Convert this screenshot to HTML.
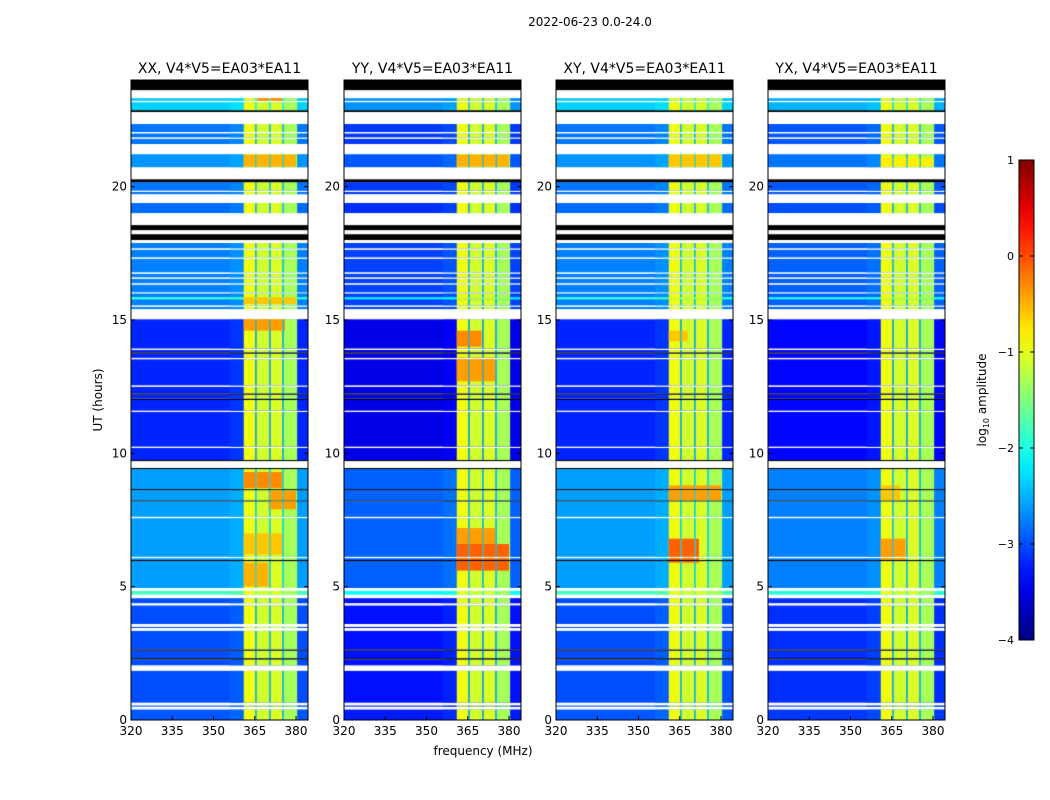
<!DOCTYPE html>
<html><head><meta charset="utf-8"><style>
body{margin:0;background:#fff;}
#wrap{position:relative;width:1050px;height:800px;overflow:hidden;font-family:"DejaVu Sans","Liberation Sans",sans-serif;}
canvas{position:absolute;}
svg{position:absolute;left:0;top:0;}
</style></head><body>
<div id="wrap">
<svg id="svg" width="1050" height="800"></svg>
</div>
<script>
// ---- data ----
const panelTitles = ["XX, V4*V5=EA03*EA11","YY, V4*V5=EA03*EA11","XY, V4*V5=EA03*EA11","YX, V4*V5=EA03*EA11"];
const panelLeft = [131,344,556,768];
const bgOffset = [0,-0.3,0,-0.15];
const xTicks = [320,335,350,365,380];
const yTicks = [0,5,10,15,20];
const cbTicks = [1,0,-1,-2,-3,-4];
// time segments: [h0,h1,type,bgLevel]  type d=data, w=white(flagged), k=black
const segments = [
 [0,0.4,"d",-2.95],[0.4,0.5,"w",0],[0.5,0.55,"d",-2.95],[0.55,0.65,"w",0],[0.65,1.85,"d",-3.0],[1.85,2.05,"w",0],
 [2.05,2.27,"d",-3.0],[2.27,2.32,"k",0],[2.32,2.6,"d",-3.0],[2.6,2.65,"k",0],[2.65,3.35,"d",-3.0],[3.35,3.45,"w",0],
 [3.45,3.5,"d",-3.0],[3.5,3.6,"w",0],[3.6,4.3,"d",-3.0],[4.3,4.38,"w",0],[4.38,4.57,"d",-3.0],[4.57,4.7,"w",0],
 [4.7,4.85,"d",-1.8],[4.85,4.95,"w",0],[4.95,5.96,"d",-2.6],[5.96,6.0,"k",0],[6.0,6.07,"d",-2.6],[6.07,6.12,"w",0],
 [6.12,7.57,"d",-2.6],[7.57,7.62,"w",0],[7.62,8.2,"d",-2.6],[8.2,8.24,"k",0],[8.24,8.62,"d",-2.6],[8.62,8.66,"k",0],
 [8.66,9.41,"d",-2.6],[9.41,9.45,"k",0],[9.45,9.71,"w",0],[9.71,9.75,"k",0],[9.75,10.2,"d",-3.2],[10.2,10.25,"w",0],
 [10.25,11.55,"d",-3.2],[11.55,11.6,"w",0],[11.6,12.0,"d",-3.2],[12.0,12.05,"k",0],[12.05,12.2,"d",-3.2],[12.2,12.25,"k",0],
 [12.25,12.5,"d",-3.2],[12.5,12.55,"w",0],[12.55,13.53,"d",-3.2],[13.53,13.58,"w",0],[13.58,13.74,"d",-3.2],[13.74,13.79,"k",0],
 [13.79,13.88,"d",-3.2],[13.88,13.93,"w",0],[13.93,15.03,"d",-3.2],[15.03,15.41,"w",0],[15.41,15.5,"d",-2.75],[15.5,15.55,"w",0],
 [15.55,15.78,"d",-2.75],[15.78,15.86,"d",-1.9],[15.86,16.0,"d",-2.75],[16.0,16.04,"w",0],[16.04,16.33,"d",-2.75],[16.33,16.38,"w",0],
 [16.38,16.55,"d",-2.75],[16.55,16.6,"w",0],[16.6,16.74,"d",-2.75],[16.74,16.79,"w",0],[16.79,17.3,"d",-2.75],[17.3,17.35,"w",0],
 [17.35,17.64,"d",-2.75],[17.64,17.69,"w",0],[17.69,17.89,"d",-2.75],[17.89,18.0,"w",0],[18.0,18.22,"k",0],[18.22,18.37,"w",0],
 [18.37,18.56,"k",0],[18.56,19.01,"w",0],[19.01,19.39,"d",-2.85],[19.39,19.72,"w",0],[19.72,19.8,"d",-2.8],[19.8,19.85,"w",0],
 [19.85,20.17,"d",-2.8],[20.17,20.28,"k",0],[20.28,20.73,"w",0],[20.73,21.22,"d",-2.65],[21.22,21.6,"w",0],[21.6,21.8,"d",-2.8],
 [21.8,21.85,"w",0],[21.85,22.0,"d",-2.8],[22.0,22.05,"w",0],[22.05,22.35,"d",-2.8],[22.35,22.8,"w",0],[22.8,22.87,"k",0],
 [22.87,23.17,"d",-2.35],[23.17,23.22,"w",0],[23.22,23.32,"d",-2.4],[23.32,23.62,"w",0],[23.62,24,"k",0]
];
// band sub-channels: [f0,f1,level]
const bands = [[361,365.2,-0.95],[365.2,365.7,-2.4],[365.7,370.3,-1.1],[370.3,370.8,-2.4],[370.8,375.1,-1.05],[375.1,375.6,-2.4],[375.6,380.5,-1.3]];
// hot spots per panel: [h0,h1,f0,f1,level]
const hotXX = [[23.2,23.45,366,375,-0.3],[20.75,21.2,361,380,-0.5],[14.6,15.03,361,376,-0.4],[8.7,9.3,361,375,-0.3],[7.9,8.6,370,380,-0.4],[5.0,5.9,361,370,-0.5],[6.2,7,361,375,-0.6],[15.6,15.86,361,380,-0.6]];
const hotYY = [[14.0,14.6,361,370,-0.3],[12.7,13.6,361,375,-0.4],[5.6,6.6,361,380,-0.1],[6.6,7.2,361,375,-0.4],[20.75,21.2,361,380,-0.5],[22.35,22.8,361,380,-0.6]];
const hotXY = [[8.2,8.8,361,380,-0.4],[5.9,6.8,361,372,-0.1],[20.75,21.2,361,380,-0.6],[14.2,14.6,361,368,-0.6]];
const hotYX = [[8.2,8.8,361,368,-0.6],[6.0,6.8,361,370,-0.4],[20.75,21.1,361,380,-0.8]];
const hots = [hotXX,hotYY,hotXY,hotYX];

// ---- scales ----
const PW=177, PT=80, PH=640, F0=320, PXPM=2.75, HMAX=24;
function xs(f){return (f-F0)*PXPM;}
function ys(h){return PH - h*PH/HMAX;}
function cl(v){return Math.max(0,Math.min(1,v));}
function jet(v){const t=cl((v+4)/5);
 return `rgb(${Math.round(255*cl(1.5-Math.abs(4*t-3)))},${Math.round(255*cl(1.5-Math.abs(4*t-2)))},${Math.round(255*cl(1.5-Math.abs(4*t-1))) })`;}

const wrap=document.getElementById('wrap');
const NS="http://www.w3.org/2000/svg";
const svg=document.getElementById('svg');
const FONT='DejaVu Sans, Liberation Sans, sans-serif';
function mk(tag,attrs,parent){const e=document.createElementNS(NS,tag);for(const k in attrs)e.setAttribute(k,attrs[k]);(parent||svg).appendChild(e);return e;}
function txt(x,y,s,size,anchor,parent){const t=mk('text',{x:x,y:y,'font-size':size,'text-anchor':anchor||'middle',fill:'#000','font-family':FONT},parent);t.textContent=s;return t;}

const tt=txt(590,26,"2022-06-23 0.0-24.0",12);



panelTitles.forEach((title,p)=>{
 const L=panelLeft[p];
 const cv=document.createElement('canvas');
 cv.width=PW;cv.height=PH;cv.style.left=L+'px';cv.style.top=PT+'px';
 
 
 wrap.insertBefore(cv,svg);
 const c=cv.getContext('2d');
 c.fillStyle='#fff';c.fillRect(0,0,PW,PH);
 const fmax=F0+PW/PXPM;
 segments.forEach(s=>{
  const y0=ys(s[1]), y1=ys(s[0]);
  if(s[2]==='w'){c.fillStyle='#fff';c.fillRect(0,y0,PW,y1-y0);return;}
  if(s[2]==='k'){c.fillStyle='#000';c.fillRect(0,y0,PW,y1-y0);return;}
  const bg=s[3]+bgOffset[p];
  c.fillStyle=jet(bg);c.fillRect(0,y0,PW,y1-y0);
  c.fillStyle=jet(bg+0.08);c.fillRect(xs(356),y0,xs(361)-xs(356),y1-y0);
  bands.forEach(b=>{
   const lv=Math.max(b[2], bg+0.3);
   c.fillStyle=jet(lv);c.fillRect(xs(b[0]),y0,xs(b[1])-xs(b[0]),y1-y0);
  });
  c.fillStyle=jet(bg);c.fillRect(xs(380.5),y0,xs(fmax)-xs(380.5),y1-y0);
 });
 hots[p].forEach(hs=>{
  segments.forEach(s=>{
   if(s[2]!=='d')return;
   const a=Math.max(s[0],hs[0]), b=Math.min(s[1],hs[1]);
   if(b<=a)return;
   bands.forEach(bd=>{
    if(bd[2]<-2)return;
    const f0=Math.max(bd[0],hs[2]), f1=Math.min(bd[1],hs[3]);
    if(f1<=f0)return;
    c.fillStyle=jet(hs[4]);
    c.fillRect(xs(f0),ys(b),xs(f1)-xs(f0),ys(a)-ys(b));
   });
  });
 });
 const g=mk('g',{transform:`translate(${L},${PT})`});
 
 
 mk('rect',{x:0,y:0,width:PW,height:PH,fill:'none',stroke:'#000','stroke-width':1},g);
 xTicks.forEach(v=>{const x=xs(v);
  mk('line',{x1:x,x2:x,y1:PH,y2:PH-4,stroke:'#000'},g);
  mk('line',{x1:x,x2:x,y1:0,y2:4,stroke:'#000'},g);
  const t=txt(x,PH+15,String(v),12,'middle',g);
  
  
 });
 yTicks.forEach(v=>{const y=ys(v);
  mk('line',{x1:0,x2:4,y1:y,y2:y,stroke:'#000'},g);
  mk('line',{x1:PW,x2:PW-4,y1:y,y2:y,stroke:'#000'},g);
  const t=txt(-4,y+4,String(v),12,'end',g);
  
  
 });
 const ti=txt(PW/2,-7,title,14,'middle',g);
 
 
});

const xl=txt(483,755,"frequency (MHz)",12);


const yl=txt(0,0,"UT (hours)",12);
yl.setAttribute('transform','translate(102,400) rotate(-90)');



const CBX=1019,CBY=160,CBW=15,CBH=480;
const defs=mk('defs',{});
const lg=mk('linearGradient',{id:'jetg',x1:0,y1:1,x2:0,y2:0},defs);
for(let i=0;i<=20;i++){const v=-4+5*i/20;mk('stop',{offset:(i/20),'stop-color':jet(v)},lg);}
const cb=mk('rect',{x:CBX,y:CBY,width:CBW,height:CBH,fill:'url(#jetg)',stroke:'#000'});


cbTicks.forEach(v=>{const y=CBY+(1-v)*CBH/5;
 mk('line',{x1:CBX,x2:CBX+4,y1:y,y2:y,stroke:'#000'});
 mk('line',{x1:CBX+CBW,x2:CBX+CBW-4,y1:y,y2:y,stroke:'#000'});
 const t=txt(CBX-5,y+4,(v<0?'\u2212':'')+Math.abs(v),11,'end');
 
 
});
const cl2=mk('text',{transform:'translate(986,400) rotate(-90)','font-size':12,'text-anchor':'middle','font-family':FONT});


cl2.innerHTML='log<tspan font-size="8" dy="3">10</tspan><tspan dy="-3"> amplitude</tspan>';
</script>
</body></html>
